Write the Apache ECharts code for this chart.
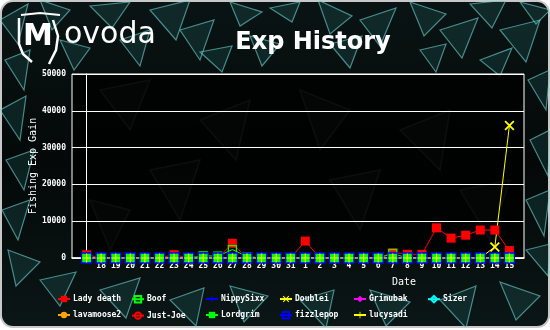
<!DOCTYPE html>
<html>
<head>
<meta charset="utf-8">
<script src="https://cdn.jsdelivr.net/npm/echarts@6/dist/echarts.min.js"></script>
<style>
  html, body { margin: 0; padding: 0; background: #ffffff; }
  #wrap { position: relative; width: 550px; height: 330px; }
  #bg, #chart { position: absolute; left: 0; top: 0; width: 550px; height: 330px; }
</style>
</head>
<body>
<div id="wrap">
  <svg id="bg" width="550" height="330" xmlns="http://www.w3.org/2000/svg"></svg>
  <div id="chart"></div>
</div>
<script>
// Days of the tracked period
const dates = ['17','18','19','20','21','22','23','24','25','26','27','28','29','30','31',
               '1','2','3','4','5','6','7','8','9','10','11','12','13','14','15'];

// Fishing exp gained per player per day
const ladyDeath  = [900,0,0,0,0,0,900,0,0,0,4000,0,0,0,0, 4600,0,0,0,0,0,1500,1000,1000,8200,5400,6200,7600,7600,2000];
const boof       = [0,0,0,0,0,0,0,0,600,500,2300,400,0,0,0, 0,0,0,0,0,0,1200,0,0,0,0,0,0,0,0];
const nippySixx  = [0,0,0,0,0,0,0,0,0,0,0,0,0,0,0, 0,0,0,0,0,0,0,0,0,0,0,0,0,0,0];
const doublei    = [0,0,0,0,0,0,0,0,0,0,0,0,0,0,0, 0,0,0,0,0,0,0,0,0,0,0,0,0,3000,36000];
const grimubak   = [0,0,0,0,0,0,0,0,0,0,0,0,0,0,0, 0,0,0,0,0,0,0,0,0,0,0,0,0,0,0];
const sizer      = [0,0,0,0,0,0,0,0,0,0,0,0,0,0,0, 0,0,0,0,0,0,0,0,0,0,0,0,0,0,0];
const lavamoose2 = [0,0,0,0,0,0,0,0,0,0,0,0,0,0,0, 0,0,0,0,0,0,0,0,0,0,0,0,0,0,0];
const justJoe    = [0,0,0,0,0,0,0,0,0,0,0,0,0,0,0, 0,0,0,0,0,0,0,0,0,0,0,0,0,0,0];
const lordgrim   = [0,0,0,0,0,0,0,0,0,0,0,0,0,0,0, 0,0,0,0,0,0,0,0,0,0,0,0,0,0,0];
const fizzlepop  = [0,0,0,0,0,0,0,0,0,0,0,0,0,0,0, 0,0,0,0,0,0,0,0,0,0,0,0,0,0,0];
const lucysadi   = [0,0,0,0,0,0,0,0,0,0,0,0,0,0,0, 0,0,0,0,0,0,0,0,0,0,0,0,0,0,0];

const yTicks = [0, 10000, 20000, 30000, 40000, 50000];

// ---- textured backdrop: rounded dark panel with teal glass shards ----
(function drawBackdrop() {
  const NS = 'http://www.w3.org/2000/svg';
  const svg = document.getElementById('bg');
  const defs = document.createElementNS(NS, 'defs');
  defs.innerHTML =
    '<linearGradient id="edge" x1="0" y1="0" x2="0" y2="1">' +
    '<stop offset="0" stop-color="#0a1414"/><stop offset="0.5" stop-color="#040808"/>' +
    '<stop offset="1" stop-color="#0b1616"/></linearGradient>' +
    '<clipPath id="panel"><rect x="1" y="1" width="548" height="326" rx="12" ry="12"/></clipPath>';
  svg.appendChild(defs);
  const base = document.createElementNS(NS, 'rect');
  base.setAttribute('x', 1); base.setAttribute('y', 1);
  base.setAttribute('width', 548); base.setAttribute('height', 326);
  base.setAttribute('rx', 12); base.setAttribute('fill', 'url(#edge)');
  base.setAttribute('stroke', '#c8c8c8'); base.setAttribute('stroke-width', 2);
  svg.appendChild(base);
  const g = document.createElementNS(NS, 'g');
  g.setAttribute('clip-path', 'url(#panel)');
  svg.appendChild(g);
  const shards = [
    [[0,20],[28,4],[18,44]], [[40,0],[70,10],[52,30]], [[90,6],[130,2],[112,28]],
    [[150,10],[190,0],[176,40]], [[180,30],[214,20],[200,60]], [[230,2],[262,12],[240,26]],
    [[270,8],[300,2],[292,22]], [[318,0],[352,16],[330,34]], [[360,20],[396,8],[380,46]],
    [[410,2],[446,14],[424,36]], [[440,30],[478,18],[462,58]], [[470,4],[506,0],[492,28]],
    [[500,30],[540,20],[526,62]], [[520,2],[550,10],[536,24]], [[120,40],[150,30],[140,66]],
    [[250,36],[280,44],[262,66]], [[330,44],[362,36],[350,68]], [[5,60],[30,50],[24,90]],
    [[0,110],[26,96],[20,140]], [[6,160],[34,150],[24,190]], [[2,210],[30,200],[18,240]],
    [[8,250],[40,262],[16,286]], [[40,280],[76,272],[60,306]], [[100,290],[140,278],[126,318]],
    [[170,300],[204,288],[196,326]], [[230,286],[268,296],[244,322]], [[300,300],[334,290],[326,328]],
    [[370,290],[410,302],[386,326]], [[440,300],[476,286],[466,328]], [[500,282],[540,296],[516,320]],
    [[528,80],[550,70],[546,110]], [[530,140],[550,130],[548,176]], [[526,200],[550,190],[544,236]],
    [[526,250],[550,244],[548,276]], [[60,40],[90,48],[74,70]], [[200,52],[232,46],[222,72]],
    [[420,50],[446,44],[436,72]], [[480,60],[512,48],[500,76]]
  ];
  shards.forEach(function (pts) {
    const p = document.createElementNS(NS, 'polygon');
    p.setAttribute('points', pts.map(function (q) { return q.join(','); }).join(' '));
    p.setAttribute('fill', 'rgba(40,120,120,0.22)');
    p.setAttribute('stroke', 'rgba(110,215,215,0.6)');
    p.setAttribute('stroke-width', 1.2);
    g.appendChild(p);
  });
  const faint = [
    [[100,90],[150,80],[130,130]], [[200,120],[250,100],[236,160]], [[300,90],[350,110],[320,150]],
    [[400,130],[450,110],[440,170]], [[150,170],[200,160],[180,220]], [[330,180],[380,170],[360,230]],
    [[460,190],[510,180],[490,240]], [[90,200],[130,210],[110,250]]
  ];
  faint.forEach(function (pts) {
    const p = document.createElementNS(NS, 'polygon');
    p.setAttribute('points', pts.map(function (q) { return q.join(','); }).join(' '));
    p.setAttribute('fill', 'rgba(120,140,140,0.15)');
    p.setAttribute('stroke', 'rgba(170,180,180,0.35)');
    p.setAttribute('stroke-width', 1.5);
    g.appendChild(p);
  });
})();

// ---- marker shapes ----
const PLUS  = 'path://M3.5,0h1v3.5h3.5v1h-3.5v3.5h-1v-3.5h-3.5v-1h3.5z';
const CROSS = 'path://M0,1L1,0L8,7L7,8Z M7,0L8,1L1,8L0,7Z';
const CLEAR = 'rgba(0,0,0,0)';

function mk(name, data, color, symbol, size, hollow) {
  return {
    name: name,
    type: 'line',
    data: data.map(function (v, i) { return [i, v]; }),
    symbol: symbol,
    symbolSize: size,
    showSymbol: true,
    animation: false,
    lineStyle: { color: color, width: 1 },
    itemStyle: hollow
      ? { color: CLEAR, borderColor: color, borderWidth: 1.3 }
      : { color: color, borderWidth: 0 },
    emphasis: { disabled: true }
  };
}

const series = [
  mk('Lady death', ladyDeath,  '#ff0000', 'rect', 9, false),
  mk('Boof',       boof,       '#00ff00', 'rect', 8, true),
  mk('NippySixx',  nippySixx,  '#0000ff', PLUS, 9, false),
  mk('Doublei',    doublei,    '#ffff00', CROSS, 10, false),
  mk('Grimubak',   grimubak,   '#ff00ff', 'diamond', 9, false),
  mk('Sizer',      sizer,      '#00ffff', 'diamond', 9, true),
  mk('lavamoose2', lavamoose2, '#ffa500', 'circle', 9, false),
  mk('Just-Joe',   justJoe,    '#ff0000', 'circle', 8, true),
  mk('Lordgrim',   lordgrim,   '#00ff00', 'rect', 9, false),
  mk('fizzlepop',  fizzlepop,  '#0000ff', 'rect', 10, true),
  mk('lucysadi',   lucysadi,   '#ffff00', PLUS, 9, false)
];

// legend laid out as six columns of two rows
const names = series.map(function (s) { return s.name; });
const colX = [57, 131, 205, 279, 353, 427];
const legends = colX.map(function (x, c) {
  const d = [names[c]];
  if (names[c + 6]) d.push(names[c + 6]);
  return {
    data: d,
    orient: 'vertical',
    left: x,
    top: 295,
    itemWidth: 12,
    itemHeight: 8,
    itemGap: 8,
    padding: 0,
    selectedMode: false,
    textStyle: { color: '#ffffff', fontFamily: 'DejaVu Sans Mono', fontSize: 8, fontWeight: 'bold', lineHeight: 8, padding: [0, 0, 0, -2] }
  };
});

const MONO = 'DejaVu Sans Mono';

const chart = echarts.init(document.getElementById('chart'), null, { renderer: 'canvas' });
chart.setOption({
  backgroundColor: 'transparent',
  animation: false,
  title: {
    text: 'Exp History',
    left: 308,
    top: 26,
    textAlign: 'center',
    textStyle: { color: '#ffffff', fontFamily: 'DejaVu Sans', fontWeight: 'bold', fontSize: 24 }
  },
  legend: legends,
  grid: {
    left: 72, right: 26, top: 74, bottom: 72,
    show: true,
    backgroundColor: 'rgba(0,0,0,0.82)',
    borderColor: '#ffffff',
    borderWidth: 1
  },
  xAxis: {
    type: 'value',
    min: -1,
    max: dates.length,
    interval: 1,
    axisLine: { show: true, onZero: true, lineStyle: { color: '#ffffff', width: 1.5 } },
    axisTick: { show: false },
    splitLine: { show: false },
    axisLabel: {
      color: '#ffffff', fontFamily: MONO, fontSize: 8, fontWeight: 'bold', margin: 4,
      showMinLabel: true, showMaxLabel: true,
      formatter: function (v) { return v >= 1 && v < dates.length ? dates[v] : ''; }
    }
  },
  yAxis: {
    type: 'value',
    min: yTicks[0],
    max: yTicks[yTicks.length - 1],
    interval: yTicks[1] - yTicks[0],
    name: 'Fishing Exp Gain',
    nameLocation: 'middle',
    nameGap: 34,
    nameMoveOverlap: false,
    nameTextStyle: { color: '#ffffff', fontFamily: MONO, fontSize: 10 },
    axisLine: { show: true, lineStyle: { color: '#ffffff', width: 1 } },
    axisTick: { show: false },
    splitLine: { show: true, lineStyle: { color: '#ffffff', width: 1 } },
    axisLabel: {
      color: '#ffffff', fontFamily: MONO, fontSize: 8, fontWeight: 'bold', margin: 6,
      formatter: function (v) { return String(v); }
    }
  },
  graphic: [
    { type: 'text', left: 392, top: 277,
      style: { text: 'Date', fill: '#ffffff', font: '10px "DejaVu Sans Mono"' } },
    // Movoda logo
    { type: 'text', left: 23, top: 22,
      style: { text: 'M', fill: '#ffffff', font: 'bold 30px "DejaVu Sans"' } },
    { type: 'text', left: 64, top: 20,
      style: { text: 'ovoda', fill: '#ffffff', font: '30px "DejaVu Sans"' } },
    { type: 'polyline', shape: { points: [[19,18],[19,44],[23,54],[32,62]] },
      style: { stroke: '#ffffff', lineWidth: 2.5, fill: null } },
    { type: 'polyline', shape: { points: [[21,15],[40,13],[60,15]] },
      style: { stroke: '#ffffff', lineWidth: 2, fill: null } },
    { type: 'polyline', shape: { points: [[53,20],[58,36],[56,50],[49,64]] },
      style: { stroke: '#ffffff', lineWidth: 2.5, fill: null } }
  ],
  series: series
});
</script>
</body>
</html>
